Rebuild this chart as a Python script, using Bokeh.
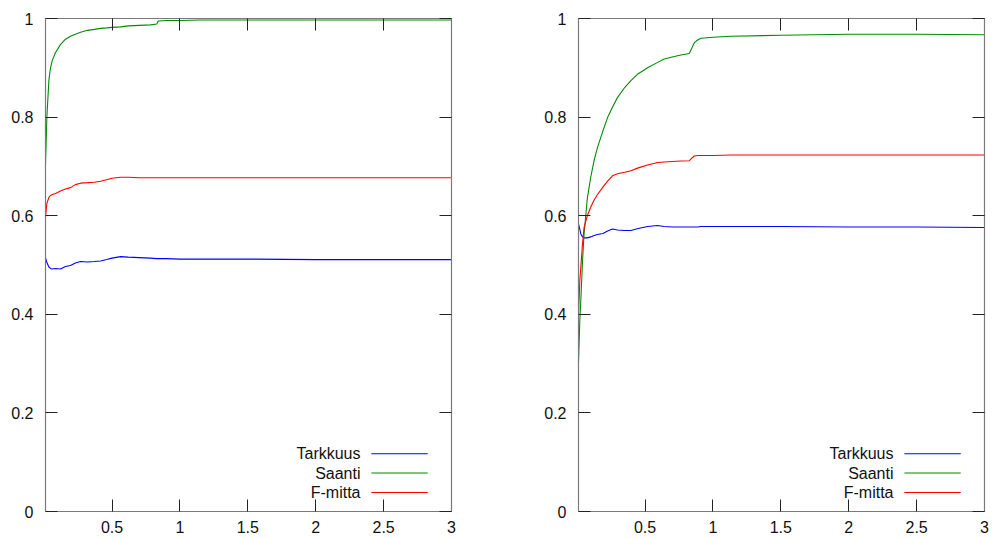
from bokeh.plotting import figure
from bokeh.layouts import row
from bokeh.models import Range1d, LinearAxis, FixedTicker, CustomJSTickFormatter, Label, Arrow
from bokeh.embed import file_html
from bokeh.resources import INLINE

# ---------------- data ----------------
series_names = ["Tarkkuus", "Saanti", "F-mitta"]
series_colors = ["#0000ff", "#008c00", "#ff0000"]

x_ticks = [0.5, 1, 1.5, 2, 2.5, 3]
y_ticks = [0, 0.2, 0.4, 0.6, 0.8, 1]

# left panel
x_left = [0.01, 0.02, 0.035, 0.047, 0.06, 0.084, 0.12, 0.157, 0.194, 0.23, 0.268, 0.32, 0.37,
          0.416, 0.46, 0.5, 0.563, 0.62, 0.7, 0.784, 0.83, 0.84, 0.9, 1.0, 1.15, 1.5, 2.0, 2.5, 3.0]
tarkkuus_left = [0.515, 0.505, 0.496, 0.493, 0.492, 0.493, 0.492, 0.497, 0.499, 0.504, 0.507, 0.506,
                 0.507, 0.508, 0.511, 0.514, 0.517, 0.516, 0.515, 0.514, 0.513, 0.513, 0.513, 0.512,
                 0.512, 0.512, 0.511, 0.511, 0.511]
saanti_left = [0.705, 0.80, 0.875, 0.90, 0.915, 0.931, 0.947, 0.958, 0.964, 0.968, 0.972, 0.976,
               0.978, 0.980, 0.981, 0.982, 0.983, 0.985, 0.986, 0.987, 0.989, 0.995, 0.996, 0.996,
               0.997, 0.997, 0.997, 0.997, 0.997]
fmitta_left = [0.597, 0.625, 0.637, 0.641, 0.643, 0.645, 0.650, 0.654, 0.657, 0.663, 0.666, 0.667,
               0.668, 0.670, 0.673, 0.676, 0.678, 0.678, 0.677, 0.677, 0.677, 0.677, 0.677, 0.677,
               0.677, 0.677, 0.677, 0.677, 0.677]

# right panel
x_right = [0.01, 0.02, 0.027, 0.04, 0.051, 0.075, 0.1, 0.125, 0.15, 0.19, 0.224, 0.26, 0.298, 0.35,
           0.396, 0.45, 0.519, 0.593, 0.641, 0.7, 0.764, 0.826, 0.845, 0.863, 0.89, 0.912, 1.0,
           1.133, 1.5, 2.0, 2.5, 3.0]
tarkkuus_right = [0.583, 0.572, 0.563, 0.557, 0.555, 0.555, 0.557, 0.560, 0.562, 0.564, 0.569, 0.573,
                  0.571, 0.570, 0.570, 0.574, 0.578, 0.580, 0.578, 0.577, 0.577, 0.577, 0.577, 0.577,
                  0.577, 0.578, 0.578, 0.578, 0.578, 0.577, 0.577, 0.576]
saanti_right = [0.303, 0.39, 0.428, 0.51, 0.563, 0.635, 0.678, 0.712, 0.7385, 0.772, 0.799, 0.82,
                0.84, 0.86, 0.874, 0.888, 0.90, 0.911, 0.918, 0.922, 0.926, 0.929, 0.940, 0.951,
                0.957, 0.960, 0.962, 0.964, 0.966, 0.968, 0.968, 0.967]
fmitta_right = [0.40, 0.47, 0.495, 0.545, 0.576, 0.60, 0.617, 0.632, 0.643, 0.658, 0.670, 0.681,
                0.685, 0.688, 0.691, 0.697, 0.703, 0.708, 0.709, 0.710, 0.711, 0.7115, 0.717, 0.721,
                0.722, 0.722, 0.722, 0.723, 0.723, 0.723, 0.723, 0.723]

# ---------------- style ----------------
FONT = "Liberation Sans"
FSIZE = "16px"
FRAME_COLOR = "#7a7a7a"
TICK_COLOR = "#222222"

LEG_TEXT_X = 2.33
LEG_LINE_X0 = 2.41
LEG_LINE_X1 = 2.825
LEG_ROWS_Y = [0.117, 0.078, 0.0385]

fmt = CustomJSTickFormatter(code="return tick.toString();")
blank_fmt = CustomJSTickFormatter(code="return '';")


def style_axis(ax, ticks, labels=True):
    ax.ticker = FixedTicker(ticks=ticks)
    ax.axis_line_color = FRAME_COLOR
    ax.axis_line_width = 1.2
    ax.major_tick_in = 12
    ax.major_tick_out = 0
    ax.major_tick_line_color = TICK_COLOR
    ax.minor_tick_line_color = None
    if labels:
        ax.formatter = fmt
        ax.major_label_text_font = FONT
        ax.major_label_text_font_size = FSIZE
        ax.major_label_text_color = "#111111"
    else:
        ax.formatter = blank_fmt
        ax.major_label_standoff = 0


def make_panel(x, ys, border_right):
    p = figure(frame_width=406, frame_height=493,
               x_range=Range1d(0.01, 3), y_range=Range1d(0, 1),
               output_backend="svg", toolbar_location=None,
               min_border_left=45, min_border_right=border_right,
               min_border_top=18, min_border_bottom=27)
    p.xgrid.visible = False
    p.ygrid.visible = False
    p.outline_line_color = None
    p.background_fill_color = "white"
    p.border_fill_color = "white"

    style_axis(p.xaxis[0], x_ticks)
    p.xaxis[0].major_label_standoff = 9
    style_axis(p.yaxis[0], y_ticks)
    p.yaxis[0].major_label_standoff = 12

    top = LinearAxis()
    style_axis(top, x_ticks, labels=False)
    p.add_layout(top, "above")
    right = LinearAxis()
    style_axis(right, y_ticks, labels=False)
    p.add_layout(right, "right")

    for y, name, col in zip(ys, series_names, series_colors):
        p.line(x, y, line_color=col, line_width=1.1)

    for name, col, ly in zip(series_names, series_colors, LEG_ROWS_Y):
        p.add_layout(Label(x=LEG_TEXT_X, y=ly, text=name, text_align="right",
                           text_baseline="middle", text_font=FONT, text_font_size=FSIZE,
                           text_color="#111111"))
        p.add_layout(Arrow(end=None, x_start=LEG_LINE_X0, y_start=ly, x_end=LEG_LINE_X1,
                           y_end=ly, line_color=col, line_width=1.1))
    return p


p1 = make_panel(x_left, [tarkkuus_left, saanti_left, fmitta_left], 82)
p2 = make_panel(x_right, [tarkkuus_right, saanti_right, fmitta_right], 8)

layout = row(p1, p2)
open("out.html", "w").write(file_html(layout, INLINE))
